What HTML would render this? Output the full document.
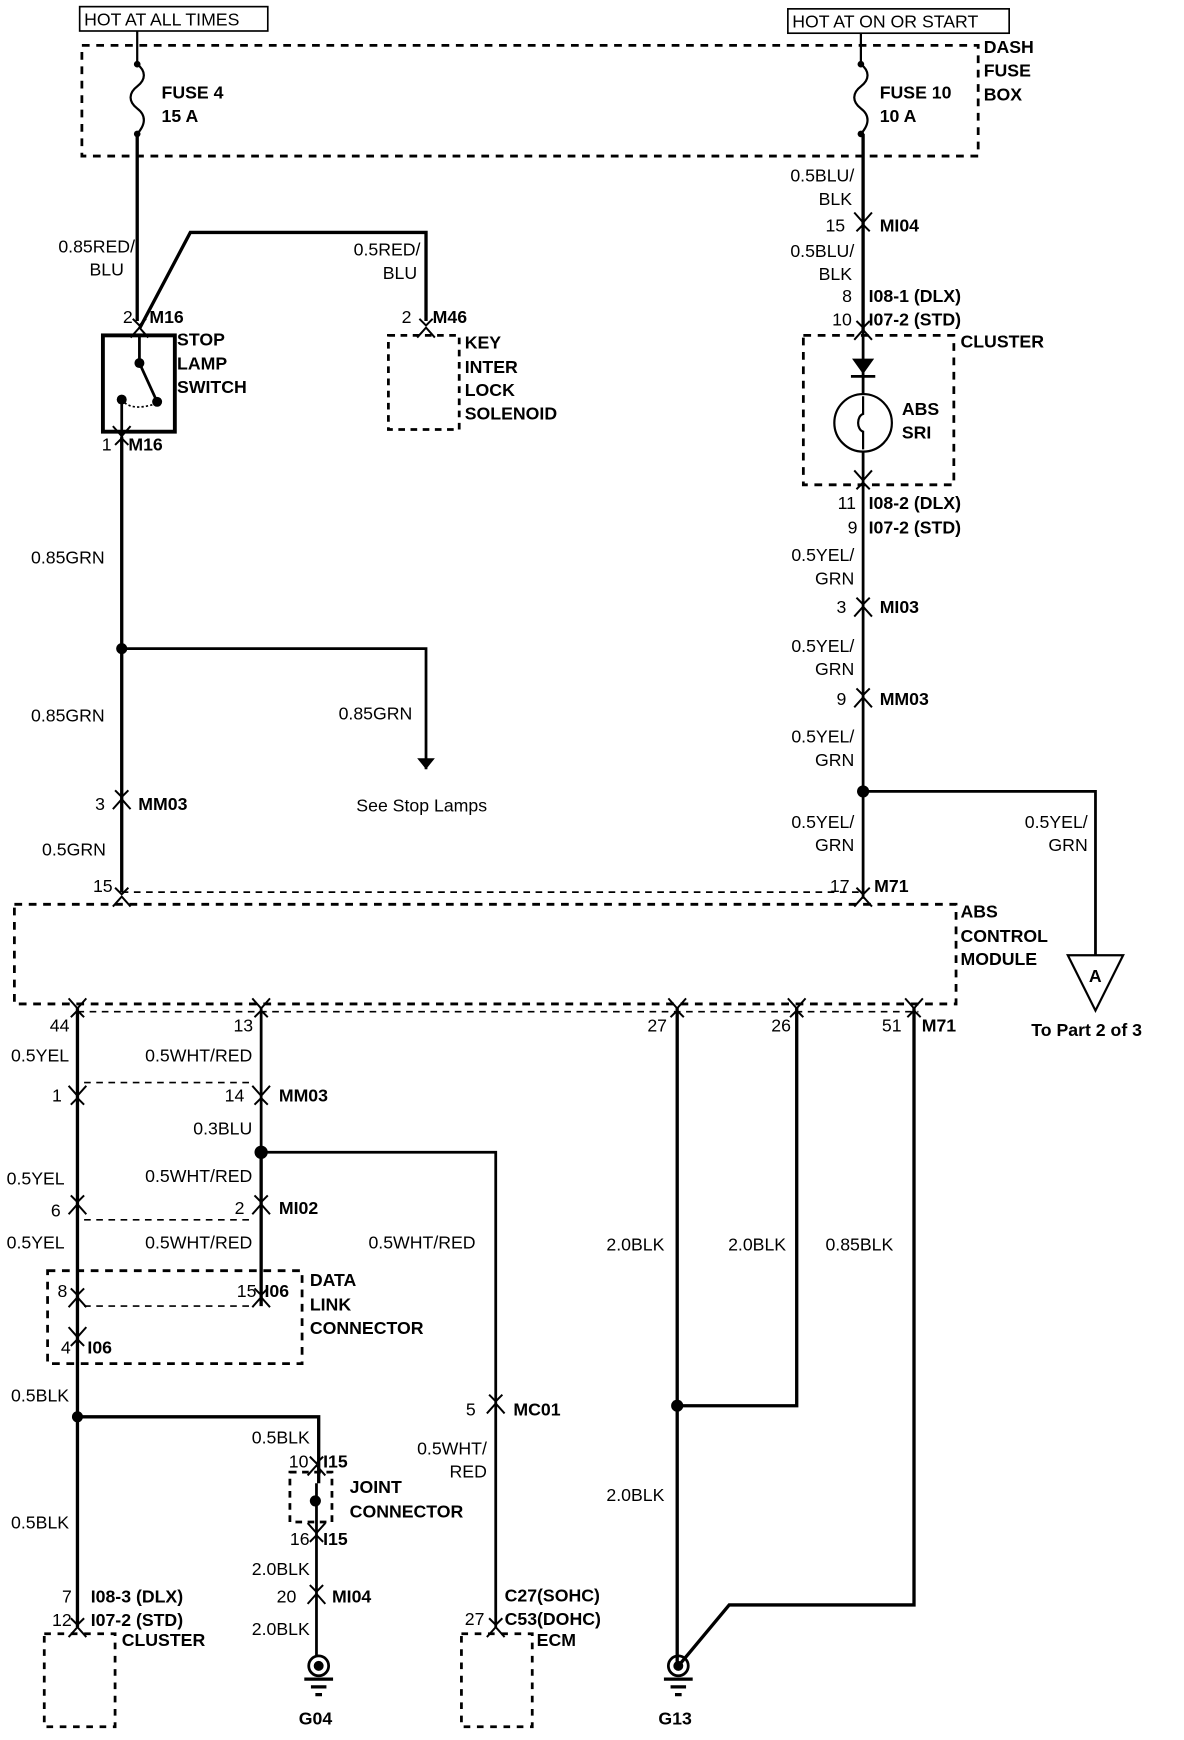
<!DOCTYPE html>
<html><head><meta charset="utf-8"><style>
html,body{margin:0;padding:0;background:#fff;}
svg{display:block}
text{font-family:"Liberation Sans",sans-serif;font-size:16px;fill:#000;}
.b{font-weight:bold;}
.r{text-anchor:end;}
</style></head><body>
<svg width="1184" height="1740" viewBox="0 0 1070 1572" preserveAspectRatio="none" xmlns="http://www.w3.org/2000/svg">
<defs>
<g id="cd"><path d="M-8,-9 L0,0 L8,-9 M-6,8 L0,2 L6,8" fill="none" stroke="#000" stroke-width="1.8"/></g>
<g id="cu"><path d="M-8,9 L0,0 L8,9 M-6,-8 L0,-2 L6,-8" fill="none" stroke="#000" stroke-width="1.8"/></g>
<g id="gnd"><circle r="9" fill="none" stroke="#000" stroke-width="2.5"/><circle r="4.5" fill="#000"/><path d="M-13,12 H13 M-7,19 H7 M-3,26 H3" stroke="#000" stroke-width="3"/></g>
</defs>
<g fill="none" stroke="#000">
<rect x="72" y="6" width="170" height="22" stroke-width="1.5"/>
<rect x="712" y="8" width="200" height="22" stroke-width="1.5"/>
<rect x="74" y="41" width="810" height="100" stroke-width="2.5" stroke-dasharray="7,6"/>
<path d="M124,28 V58 C132,64 132,72 124,78 C116,84 116,92 124,98 C132,104 132,112 124,121 V290" stroke-width="2"/>
<path d="M124,121 V290" stroke-width="3"/>
<path d="M778,30 V58 C786,64 786,72 778,78 C770,84 770,92 778,98 C786,104 786,112 778,121" stroke-width="2"/>
<path d="M780,121 V300" stroke-width="3"/>
<path d="M126,297 L172,210 H385 V290" stroke-width="3"/>
<rect x="93" y="303" width="65" height="87" stroke-width="3.5"/>
<path d="M126,303 V328 L142,363" stroke-width="2.5"/>
<path d="M110,361 Q118,372 140,365" stroke-width="1.5" stroke-dasharray="2,2"/>
<path d="M110,361 V400" stroke-width="2.5"/>
<rect x="351" y="303" width="64" height="85" stroke-width="2.5" stroke-dasharray="6,5"/>
<path d="M110,395 V806" stroke-width="3"/>
<path d="M110,586 H385 V695" stroke-width="2.5"/>
<rect x="726" y="303" width="136" height="135" stroke-width="2.5" stroke-dasharray="7,6"/>
<path d="M780,300 V356 M780,407 V812" stroke-width="2.5"/>
<circle cx="780" cy="382" r="26" stroke-width="2"/>
<path d="M780,358 V374 C774,376 774,388 780,390 V406" stroke-width="2"/>
<path d="M780,715 H990 V863" stroke-width="2.5"/>
<path d="M965,863 H1015 L990,913 Z" stroke-width="2"/>
<path d="M110,806 H780" stroke-width="1.5" stroke-dasharray="6,5"/>
<rect x="13" y="817" width="851" height="90" stroke-width="2.5" stroke-dasharray="7,6"/>
<path d="M70,914 H830" stroke-width="1.5" stroke-dasharray="6,5"/>
<path d="M70,910 V1470" stroke-width="3"/>
<path d="M236,910 V1040" stroke-width="2.5"/>
<path d="M236,1040 V1180" stroke-width="3"/>
<path d="M236,1041 H448 V1470" stroke-width="2.5"/>
<path d="M76,978 H230 M76,1102 H230" stroke-width="1.5" stroke-dasharray="6,5"/>
<rect x="43" y="1148" width="230" height="84" stroke-width="2.5" stroke-dasharray="7,6"/>
<path d="M76,1180 H230" stroke-width="1.5" stroke-dasharray="6,5"/>
<path d="M70,1280 H288 V1340" stroke-width="3"/>
<rect x="262" y="1330" width="38" height="45" stroke-width="2.5" stroke-dasharray="6,5"/>
<path d="M286,1340 V1496" stroke-width="2.5"/>
<rect x="40" y="1476" width="64" height="84" stroke-width="2.5" stroke-dasharray="6,6"/>
<rect x="417" y="1476" width="64" height="84" stroke-width="2.5" stroke-dasharray="6,6"/>
<path d="M612,910 V1502" stroke-width="3"/>
<path d="M612,1270 H720 V910" stroke-width="3"/>
<path d="M826,910 V1450 H659 L614,1504" stroke-width="3"/>
</g>
<g fill="#000">
<circle cx="124" cy="58" r="3"/><circle cx="124" cy="121" r="3"/>
<circle cx="778" cy="58" r="3"/><circle cx="778" cy="121" r="3"/>
<circle cx="126" cy="328" r="4.5"/><circle cx="142" cy="363" r="4.5"/><circle cx="110" cy="361" r="4.5"/>
<circle cx="110" cy="586" r="5"/><circle cx="780" cy="715" r="5.5"/>
<circle cx="236" cy="1041" r="6"/><circle cx="70" cy="1280" r="5"/><circle cx="612" cy="1270" r="5.5"/>
<circle cx="285" cy="1356" r="5"/>
<path d="M385,695 l-8,-10 h16 z"/>
<path d="M770,324 h20 l-10,14 z"/><path d="M769,340 h22" stroke="#000" stroke-width="2.5"/>
</g>
<use href="#cd" x="780" y="201"/>
<use href="#cu" x="126" y="296"/>
<use href="#cu" x="385" y="296"/>
<use href="#cu" x="780" y="298"/>
<use href="#cd" x="110" y="394"/>
<use href="#cd" x="780" y="434"/>
<use href="#cu" x="780" y="548"/>
<use href="#cu" x="780" y="630"/>
<use href="#cu" x="110" y="722"/>
<use href="#cu" x="110" y="810"/>
<use href="#cu" x="780" y="810"/>
<use href="#cd" x="70" y="911"/><use href="#cd" x="236" y="911"/><use href="#cd" x="612" y="911"/><use href="#cd" x="720" y="911"/><use href="#cd" x="826" y="911"/>
<use href="#cd" x="70" y="990"/><use href="#cd" x="236" y="990"/>
<use href="#cu" x="70" y="1088"/><use href="#cu" x="236" y="1088"/>
<use href="#cu" x="70" y="1172"/><use href="#cu" x="236" y="1172"/>
<use href="#cd" x="70" y="1208"/>
<use href="#cu" x="448" y="1268"/>
<use href="#cu" x="286" y="1324"/>
<use href="#cd" x="286" y="1385"/>
<use href="#cu" x="286" y="1440"/>
<use href="#cu" x="70" y="1470"/><use href="#cu" x="448" y="1470"/>
<use href="#gnd" x="288" y="1505"/>
<use href="#gnd" x="613" y="1505"/>
<text x="76" y="23">HOT AT ALL TIMES</text>
<text x="716" y="25">HOT AT ON OR START</text>
<text class="b" x="889" y="48">DASH</text><text class="b" x="889" y="69">FUSE</text><text class="b" x="889" y="91">BOX</text>
<text class="b" x="146" y="89">FUSE 4</text><text class="b" x="146" y="110">15 A</text>
<text class="b" x="795" y="89">FUSE 10</text><text class="b" x="795" y="110">10 A</text>
<text class="r" x="122" y="228">0.85RED/</text><text class="r" x="112" y="249">BLU</text>
<text class="r" x="380" y="231">0.5RED/</text><text class="r" x="377" y="252">BLU</text>
<text x="111" y="292">2</text><text class="b" x="135" y="292">M16</text>
<text class="b" x="160" y="312">STOP</text><text class="b" x="160" y="334">LAMP</text><text class="b" x="160" y="355">SWITCH</text>
<text x="92" y="407">1</text><text class="b" x="116" y="407">M16</text>
<text x="363" y="292">2</text><text class="b" x="391" y="292">M46</text>
<text class="b" x="420" y="315">KEY</text><text class="b" x="420" y="337">INTER</text><text class="b" x="420" y="358">LOCK</text><text class="b" x="420" y="379">SOLENOID</text>
<text x="28" y="509">0.85GRN</text>
<text x="28" y="652">0.85GRN</text>
<text x="306" y="650">0.85GRN</text>
<text x="322" y="733">See Stop Lamps</text>
<text x="86" y="732">3</text><text class="b" x="125" y="732">MM03</text>
<text x="38" y="773">0.5GRN</text>
<text x="84" y="806">15</text>
<text class="r" x="772" y="164">0.5BLU/</text><text class="r" x="770" y="185">BLK</text>
<text x="746" y="209">15</text><text class="b" x="795" y="209">MI04</text>
<text class="r" x="772" y="232">0.5BLU/</text><text class="r" x="770" y="253">BLK</text>
<text x="761" y="273">8</text><text class="b" x="785" y="273">I08-1 (DLX)</text>
<text x="752" y="294">10</text><text class="b" x="785" y="294">I07-2 (STD)</text>
<text class="b" x="868" y="314">CLUSTER</text>
<text class="b" x="815" y="375">ABS</text><text class="b" x="815" y="396">SRI</text>
<text x="757" y="460">11</text><text class="b" x="785" y="460">I08-2 (DLX)</text>
<text x="766" y="482">9</text><text class="b" x="785" y="482">I07-2 (STD)</text>
<text class="r" x="772" y="507">0.5YEL/</text><text class="r" x="772" y="528">GRN</text>
<text x="756" y="554">3</text><text class="b" x="795" y="554">MI03</text>
<text class="r" x="772" y="589">0.5YEL/</text><text class="r" x="772" y="610">GRN</text>
<text x="756" y="637">9</text><text class="b" x="795" y="637">MM03</text>
<text class="r" x="772" y="671">0.5YEL/</text><text class="r" x="772" y="692">GRN</text>
<text class="r" x="772" y="748">0.5YEL/</text><text class="r" x="772" y="769">GRN</text>
<text class="r" x="983" y="748">0.5YEL/</text><text class="r" x="983" y="769">GRN</text>
<text x="750" y="806">17</text><text class="b" x="790" y="806">M71</text>
<text class="b" x="868" y="829">ABS</text><text class="b" x="868" y="851">CONTROL</text><text class="b" x="868" y="872">MODULE</text>
<text class="b" x="984" y="887">A</text>
<text class="b" x="932" y="936">To Part 2 of 3</text>
<text x="45" y="932">44</text><text x="211" y="932">13</text>
<text x="585" y="932">27</text><text x="697" y="932">26</text><text x="797" y="932">51</text><text class="b" x="833" y="932">M71</text>
<text x="10" y="959">0.5YEL</text><text class="r" x="228" y="959">0.5WHT/RED</text>
<text x="47" y="995">1</text><text x="203" y="995">14</text><text class="b" x="252" y="995">MM03</text>
<text class="r" x="228" y="1025">0.3BLU</text>
<text x="6" y="1070">0.5YEL</text><text class="r" x="228" y="1068">0.5WHT/RED</text>
<text x="46" y="1099">6</text><text x="212" y="1097">2</text><text class="b" x="252" y="1097">MI02</text>
<text x="6" y="1128">0.5YEL</text><text class="r" x="228" y="1128">0.5WHT/RED</text>
<text x="333" y="1128">0.5WHT/RED</text>
<text class="b" x="280" y="1162">DATA</text><text class="b" x="280" y="1184">LINK</text><text class="b" x="280" y="1205">CONNECTOR</text>
<text x="52" y="1172">8</text><text x="214" y="1172">15</text><text class="b" x="239" y="1172">I06</text>
<text x="55" y="1223">4</text><text class="b" x="79" y="1223">I06</text>
<text x="10" y="1266">0.5BLK</text>
<text x="548" y="1130">2.0BLK</text><text x="658" y="1130">2.0BLK</text><text x="746" y="1130">0.85BLK</text>
<text x="421" y="1279">5</text><text class="b" x="464" y="1279">MC01</text>
<text class="r" x="280" y="1304">0.5BLK</text>
<text x="261" y="1326">10</text><text class="b" x="292" y="1326">I15</text>
<text class="b" x="316" y="1349">JOINT</text><text class="b" x="316" y="1371">CONNECTOR</text>
<text class="r" x="440" y="1314">0.5WHT/</text><text class="r" x="440" y="1335">RED</text>
<text x="548" y="1356">2.0BLK</text>
<text x="10" y="1381">0.5BLK</text>
<text x="262" y="1396">16</text><text class="b" x="292" y="1396">I15</text>
<text class="r" x="280" y="1423">2.0BLK</text>
<text x="250" y="1448">20</text><text class="b" x="300" y="1448">MI04</text>
<text x="56" y="1448">7</text><text class="b" x="82" y="1448">I08-3 (DLX)</text>
<text x="47" y="1469">12</text><text class="b" x="82" y="1469">I07-2 (STD)</text>
<text class="b" x="110" y="1487">CLUSTER</text>
<text class="b" x="456" y="1447">C27(SOHC)</text><text x="420" y="1468">27</text><text class="b" x="456" y="1468">C53(DOHC)</text>
<text class="b" x="485" y="1487">ECM</text>
<text class="r" x="280" y="1477">2.0BLK</text>
<text class="b" x="270" y="1558">G04</text>
<text class="b" x="595" y="1558">G13</text>
</svg>
</body></html>
